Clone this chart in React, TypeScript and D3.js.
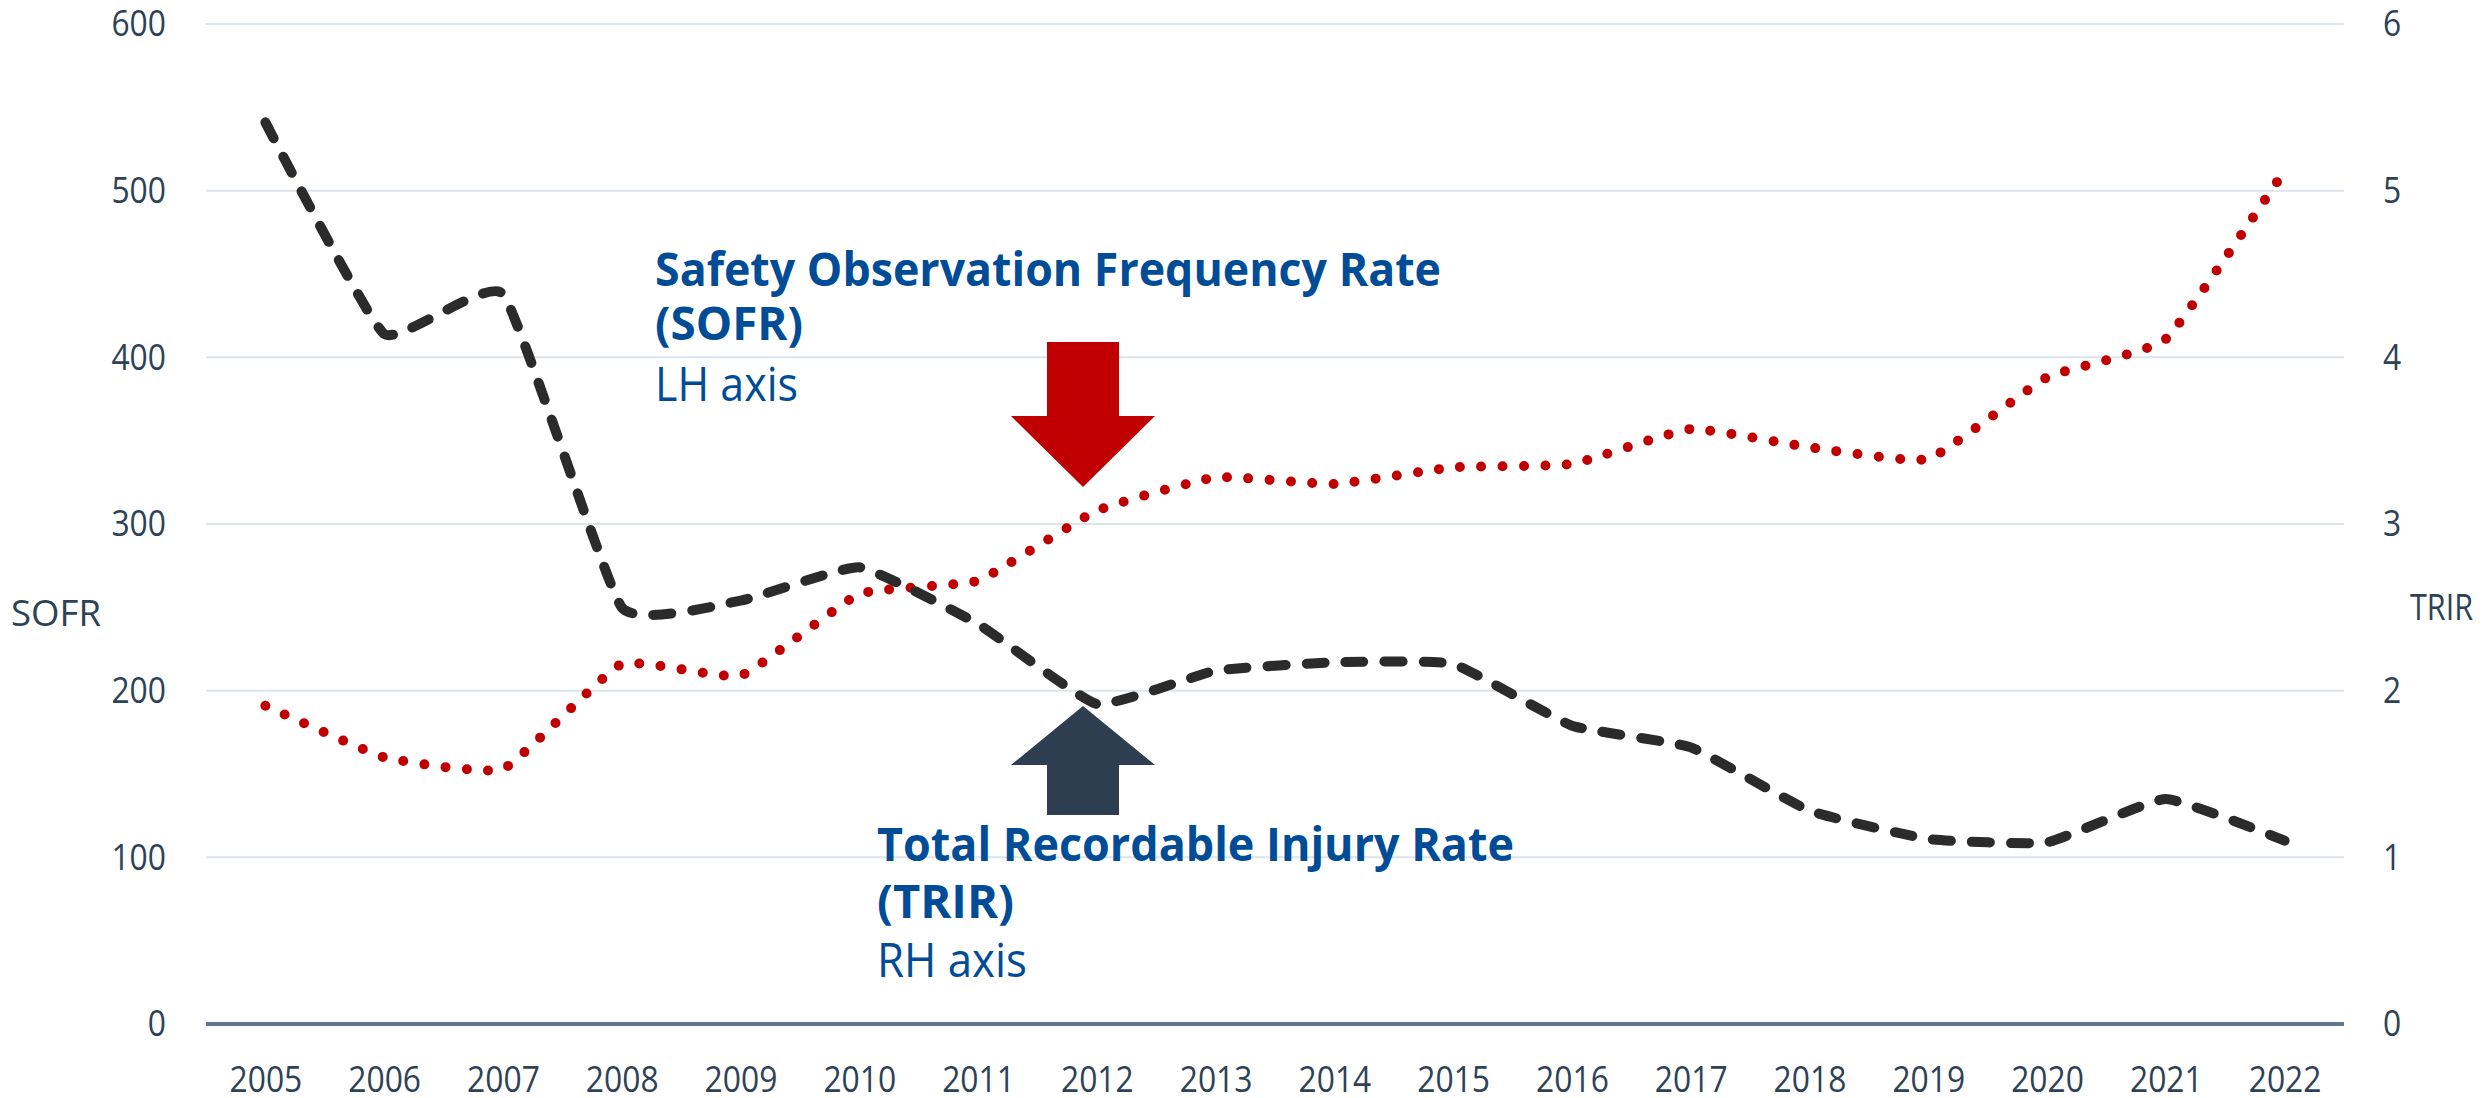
import React, { useEffect, useRef } from 'react';
import * as d3 from 'd3';

// chart data
const years = ['2005', '2006', '2007', '2008', '2009', '2010', '2011', '2012', '2013', '2014', '2015', '2016', '2017', '2018', '2019', '2020', '2021', '2022'];
const sofr = [191, 160, 153, 216, 209, 258, 266, 308, 328, 324, 334, 336, 357, 346, 339, 388, 411, 512];
const trir = [5.41, 4.14, 4.38, 2.5, 2.54, 2.74, 2.4, 1.92, 2.12, 2.17, 2.16, 1.79, 1.66, 1.28, 1.11, 1.09, 1.35, 1.1];
const leftTicks = [0, 100, 200, 300, 400, 500, 600];
const rightTicks = [0, 1, 2, 3, 4, 5, 6];

const W = 2486;
const H = 1098;
const left = 206;
const right = 2344;
const top = 24;
const bottom = 1024;
const font = "'Segoe UI', 'Open Sans', sans-serif";
const tickColor = '#2E4257';
const blue = '#004C97';
const squeeze = 0.86;

const App = () => {
  const leftRef = useRef<SVGGElement>(null);
  const rightRef = useRef<SVGGElement>(null);
  const bottomRef = useRef<SVGGElement>(null);

  const x = d3.scalePoint().domain(years).range([left, right]).padding(0.5);
  const yL = d3.scaleLinear().domain([0, 600]).range([bottom, top]);
  const yR = d3.scaleLinear().domain([0, 6]).range([bottom, top]);

  const curve = d3.curveCardinal.tension(0.62);
  const sofrLine = d3.line<number>()
    .x((d, i) => x(years[i]) as number)
    .y(d => yL(d))
    .curve(curve);
  const trirLine = d3.line<number>()
    .x((d, i) => x(years[i]) as number)
    .y(d => yR(d))
    .curve(curve);

  useEffect(() => {
    document.body.style.margin = '0';

    const styleTicks = (g) => {
      g.select('.domain').remove();
      g.selectAll('line').remove();
      g.selectAll('text')
        .attr('fill', tickColor)
        .style('font-family', font)
        .style('font-size', '37px')
        .attr('transform', `scale(${squeeze},1)`);
    };

    d3.select(leftRef.current)
      .call(d3.axisLeft(yL).tickValues(leftTicks).tickFormat(d3.format('d')).tickSize(0).tickPadding(40 / squeeze))
      .call(styleTicks);

    d3.select(rightRef.current)
      .call(d3.axisRight(yR).tickValues(rightTicks).tickFormat(d3.format('d')).tickSize(0).tickPadding(39 / squeeze))
      .call(styleTicks);

    d3.select(bottomRef.current)
      .call(d3.axisBottom(x).tickSize(0))
      .call(styleTicks)
      .selectAll('text')
      .attr('y', 68)
      .attr('dy', 0);
  }, []);

  return (
    <svg width={W} height={H} style={{ display: 'block', background: '#fff' }}>
      {/* gridlines */}
      {leftTicks.filter(t => t > 0).map(t => (
        <line key={t} x1={left} x2={right} y1={yL(t)} y2={yL(t)} stroke="#DCE3EC" strokeWidth={2} />
      ))}
      <line x1={left} x2={right} y1={bottom} y2={bottom} stroke="#5A7793" strokeWidth={4} />

      <g ref={leftRef} transform={`translate(${left},0)`} />
      <g ref={rightRef} transform={`translate(${right},0)`} />
      <g ref={bottomRef} transform={`translate(0,${bottom})`} />

      {/* axis titles */}
      <text x={11} y={626} fill={tickColor} fontFamily={font} fontSize={37} textLength={90} lengthAdjust="spacingAndGlyphs">SOFR</text>
      <text x={2410} y={620} fill={tickColor} fontFamily={font} fontSize={37} textLength={63} lengthAdjust="spacingAndGlyphs">TRIR</text>

      {/* series */}
      <path d={sofrLine(sofr) || ''} fill="none" stroke="#C00000" strokeWidth={10}
        strokeDasharray="0 21.3" strokeLinecap="round" />
      <path d={trirLine(trir) || ''} fill="none" stroke="#2B2B2B" strokeWidth={10}
        strokeDasharray="18 21" strokeLinecap="round" strokeLinejoin="round" />

      {/* arrows */}
      <polygon points="1047,342 1119,342 1119,416 1155,416 1083,487 1011,416 1047,416" fill="#C00000" />
      <polygon points="1083,706 1155,765 1119,765 1119,815 1047,815 1047,765 1011,765" fill="#2E3D50" />

      {/* annotations */}
      <g fontFamily={font} fill={blue}>
        <text x={655} y={286} fontSize={46} fontWeight="bold" textLength={786} lengthAdjust="spacingAndGlyphs">Safety Observation Frequency Rate</text>
        <text x={655} y={340} fontSize={46} fontWeight="bold" textLength={148} lengthAdjust="spacingAndGlyphs">(SOFR)</text>
        <text x={655} y={401} fontSize={47} textLength={143} lengthAdjust="spacingAndGlyphs">LH axis</text>
        <text x={877} y={861} fontSize={46} fontWeight="bold" textLength={637} lengthAdjust="spacingAndGlyphs">Total Recordable Injury Rate</text>
        <text x={877} y={918} fontSize={46} fontWeight="bold" textLength={137} lengthAdjust="spacingAndGlyphs">(TRIR)</text>
        <text x={877} y={977} fontSize={47} textLength={150} lengthAdjust="spacingAndGlyphs">RH axis</text>
      </g>
    </svg>
  );
};

export default App;
